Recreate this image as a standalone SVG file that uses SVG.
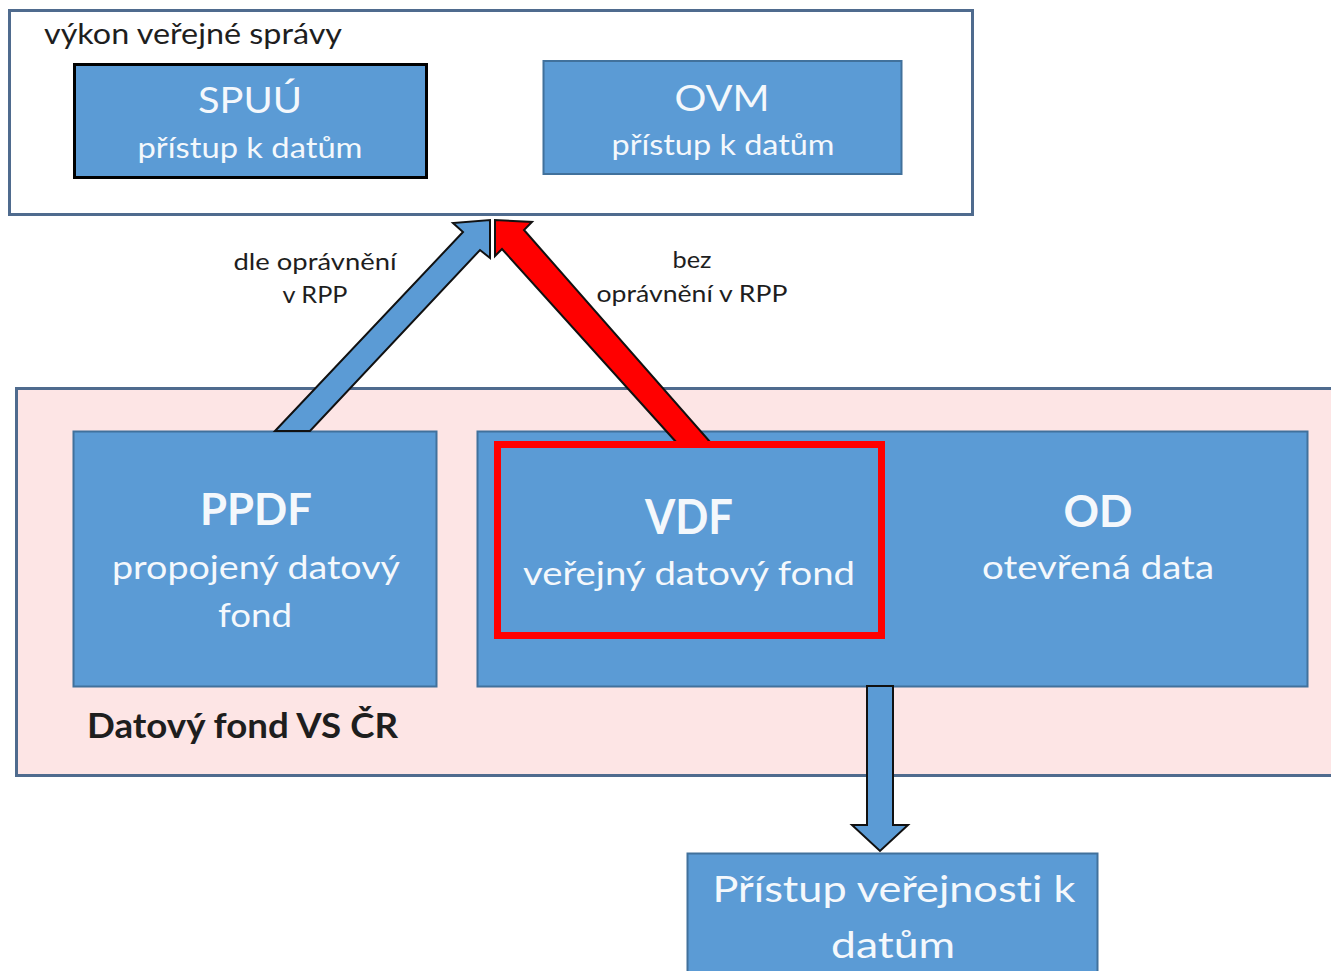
<svg xmlns="http://www.w3.org/2000/svg" width="1331" height="971" viewBox="0 0 1331 971">
<style>
.frame{stroke:#4F6B8E;stroke-width:3}
.node{fill:#5B9BD5;stroke:#41719C;stroke-width:2}
text{font-variant-ligatures:none;font-feature-settings:"liga" 0}
.t{font-family:Lato,"Liberation Sans",Arial,sans-serif;text-anchor:middle;fill:#F4F8FC}
.b{font-weight:bold}
.lbl{font-family:Lato,"Liberation Sans",Arial,sans-serif;fill:#1E1E1E}
.arrow{stroke:#111;stroke-width:2;stroke-linejoin:miter}
</style>
<rect width="1331" height="971" fill="#FFFFFF"/>
<g id="verejna-sprava">
<rect class="frame" x="9.5" y="10.5" width="963" height="204" fill="#FFFFFF"/>
<text class="lbl" x="44" y="44" font-size="28" textLength="298" lengthAdjust="spacingAndGlyphs">výkon veřejné správy</text>
</g>
<g id="spuu">
<rect x="74.5" y="64.5" width="352" height="113" fill="#5B9BD5" stroke="#000" stroke-width="3"/>
<text class="t" x="250" y="113" font-size="36" textLength="104" lengthAdjust="spacingAndGlyphs">SPUÚ</text>
<text class="t" x="250" y="158" font-size="29" textLength="225" lengthAdjust="spacingAndGlyphs">přístup k datům</text>
</g>
<g id="ovm">
<rect class="node" x="543.5" y="61" width="358" height="113"/>
<text class="t" x="722" y="111" font-size="37" textLength="95" lengthAdjust="spacingAndGlyphs">OVM</text>
<text class="t" x="723" y="155" font-size="29" textLength="223" lengthAdjust="spacingAndGlyphs">přístup k datům</text>
</g>
<g id="datovy-fond">
<rect class="frame" x="16.5" y="388.5" width="1320" height="387" fill="#FDE5E5"/>
<text class="lbl b" x="87" y="738" font-size="35" textLength="311" lengthAdjust="spacingAndGlyphs">Datový fond VS ČR</text>
</g>
<g id="ppdf">
<rect class="node" x="73.5" y="431.5" width="363" height="255"/>
<text class="t b" x="256" y="525" font-size="43" textLength="112" lengthAdjust="spacingAndGlyphs">PPDF</text>
<text class="t" x="256" y="579" font-size="32" textLength="288" lengthAdjust="spacingAndGlyphs">propojený datový</text>
<text class="t" x="255" y="627" font-size="32" textLength="74" lengthAdjust="spacingAndGlyphs">fond</text>
</g>
<g id="od">
<rect class="node" x="477.5" y="431.5" width="830" height="255"/>
<text class="t b" x="1098" y="527" font-size="44" textLength="69" lengthAdjust="spacingAndGlyphs">OD</text>
<text class="t" x="1098" y="579" font-size="32" textLength="232" lengthAdjust="spacingAndGlyphs">otevřená data</text>
</g>
<g id="verejnost">
<rect class="node" x="687.5" y="853.5" width="410" height="130"/>
<text class="t" x="894" y="902" font-size="36" textLength="363" lengthAdjust="spacingAndGlyphs">Přístup veřejnosti k</text>
<text class="t" x="893" y="958" font-size="36" textLength="124" lengthAdjust="spacingAndGlyphs">datům</text>
</g>
<g id="connectors">
<polygon class="arrow" fill="#5B9BD5" points="275,431 463,232 453,223 490,220 490,258 480,250 310,431"/>
<polygon class="arrow" fill="#FF0000" points="677,443 502,249 495,256 495,220 532,222 524,230 711,443"/>
<polygon class="arrow" fill="#5B9BD5" points="867,686 893,686 893,825 908,825 880,851 852,825 867,825"/>
<text class="lbl" x="315" y="270" font-size="23" text-anchor="middle" textLength="163" lengthAdjust="spacingAndGlyphs">dle oprávnění</text>
<text class="lbl" x="315" y="303" font-size="23" text-anchor="middle" textLength="65" lengthAdjust="spacingAndGlyphs">v RPP</text>
<text class="lbl" x="692" y="268" font-size="23" text-anchor="middle" textLength="39" lengthAdjust="spacingAndGlyphs">bez</text>
<text class="lbl" x="692" y="302" font-size="23" text-anchor="middle" textLength="191" lengthAdjust="spacingAndGlyphs">oprávnění v RPP</text>
</g>
<g id="vdf">
<rect x="497.5" y="444.5" width="384" height="191" fill="#5B9BD5" stroke="#FF0000" stroke-width="7"/>
<text class="t b" x="689" y="534" font-size="47" textLength="88" lengthAdjust="spacingAndGlyphs">VDF</text>
<text class="t" x="689" y="585" font-size="32" textLength="332" lengthAdjust="spacingAndGlyphs">veřejný datový fond</text>
</g>
</svg>
